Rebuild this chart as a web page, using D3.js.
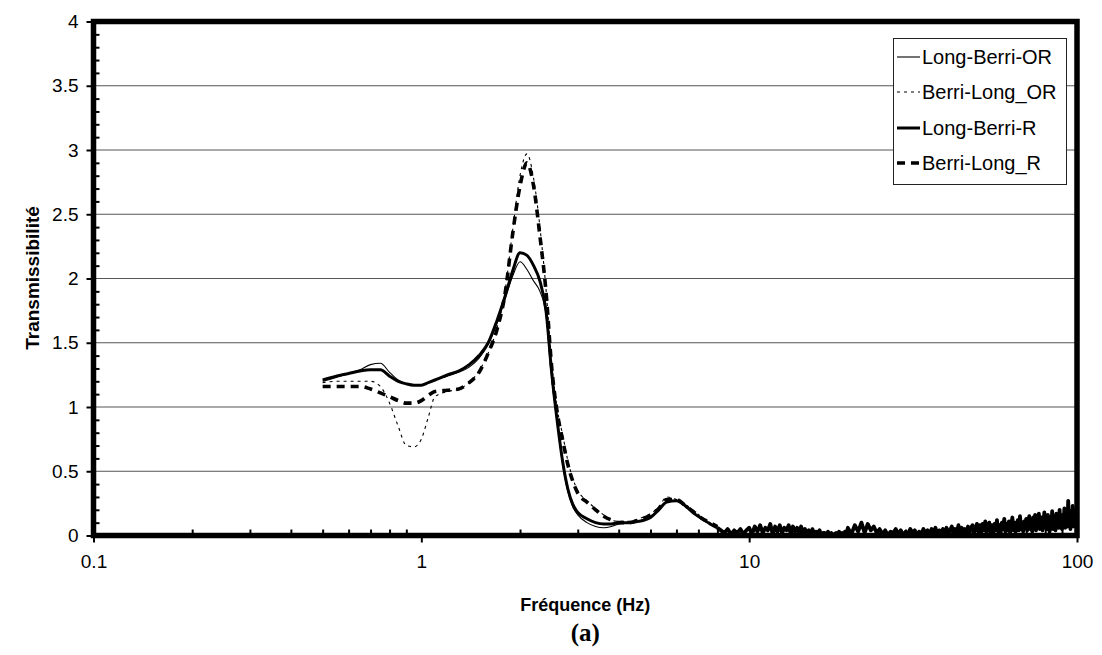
<!DOCTYPE html>
<html><head><meta charset="utf-8">
<script src="https://cdn.jsdelivr.net/npm/d3@7"></script>
<style>
body{margin:0;background:#fff;}
text{font-family:"Liberation Sans",Arial,Helvetica,sans-serif;}
</style>
</head><body>
<svg id="chart" width="1102" height="655"></svg>
<script>
// ---------- DATA ----------
const freq = [0.5,0.55,0.6,0.65,0.7,0.75,0.8,0.85,0.9,0.95,
  1.0,1.05,1.1,
  1.2,1.3,1.4,1.5,1.6,1.7,1.8,1.9,2.0,2.1,2.2,2.3,2.4,2.5,2.6,2.7,2.8,2.9,3.0,
  3.2,3.4,3.6,3.8,4.0,
  4.3,4.6,5.0,5.3,5.6,6.0,
  6.4,6.8,7.2,7.6,8.0];

const longBerriOR = [1.20,1.23,1.26,1.29,1.33,1.34,1.27,1.21,1.18,1.17,
  1.17,1.19,1.21,
  1.24,1.27,1.31,1.38,1.49,1.65,1.84,2.02,2.13,2.07,1.98,1.90,1.72,1.22,0.86,0.55,0.34,0.22,0.16,
  0.10,0.07,0.06,0.07,0.09,
  0.10,0.11,0.15,0.20,0.26,0.27,
  0.22,0.17,0.12,0.09,0.06];

const berriLongOR = [1.19,1.20,1.20,1.20,1.20,1.16,1.03,0.85,0.70,0.69,
  0.75,0.92,1.08,
  1.12,1.14,1.19,1.28,1.42,1.61,1.90,2.38,2.80,2.97,2.78,2.40,1.92,1.33,0.98,0.78,0.58,0.44,0.35,
  0.27,0.21,0.16,0.12,0.11,
  0.11,0.13,0.17,0.22,0.30,0.28,
  0.24,0.19,0.14,0.10,0.07];

const longBerriR = [1.21,1.24,1.26,1.28,1.29,1.29,1.24,1.20,1.18,1.17,
  1.17,1.19,1.21,
  1.25,1.28,1.33,1.40,1.50,1.67,1.86,2.06,2.20,2.18,2.10,1.98,1.75,1.26,0.88,0.57,0.36,0.24,0.18,
  0.13,0.10,0.09,0.09,0.10,
  0.10,0.11,0.14,0.20,0.26,0.27,
  0.23,0.17,0.13,0.09,0.06];

const berriLongR = [1.16,1.16,1.16,1.16,1.14,1.11,1.08,1.05,1.03,1.03,
  1.05,1.09,1.12,
  1.13,1.14,1.19,1.27,1.42,1.60,1.88,2.35,2.72,2.90,2.72,2.33,1.90,1.30,0.95,0.74,0.55,0.42,0.33,
  0.26,0.20,0.15,0.12,0.10,
  0.10,0.12,0.16,0.21,0.28,0.28,
  0.23,0.18,0.13,0.10,0.07];

// high-frequency noisy tail (FFT bins: 0.2 Hz up to 20 Hz, 0.5 Hz above)
const tailFreq = d3.range(8.2, 19.9, 0.2).concat(d3.range(20, 100.01, 0.5));
const tailValues = [
  // 8.2 - 9.8
  0.04,0.02,0.05,0.01,0.04,0.02,0.05,0.01,0.04,
  // 10.0 - 13.8
  0.06,0.01,0.07,0.03,0.08,0.02,0.06,0.04,0.09,0.01,0.07,0.03,0.08,0.02,0.06,0.04,0.08,0.01,0.07,0.03,
  // 14.0 - 16.8
  0.06,0.02,0.07,0.01,0.05,0.02,0.04,0.00,0.05,0.01,0.03,0.02,0.04,0.00,0.02,
  // 17.0 - 19.8
  0.02,0.00,0.03,0.01,0.02,0.00,0.01,0.02,0.00,0.03,0.01,0.02,0.00,0.03,0.01,
  // 20 - 24.5
  0.06,0.01,0.08,0.03,0.10,0.02,0.09,0.04,0.07,0.02,
  // 25 - 34.5
  0.05,0.01,0.04,0.00,0.03,0.02,0.05,0.01,0.04,0.00,0.03,0.01,0.05,0.02,0.04,0.00,0.03,0.01,0.05,0.02,
  // 35 - 49.5
  0.04,0.01,0.05,0.02,0.06,0.00,0.04,0.02,0.05,0.01,0.06,0.02,0.04,0.07,0.01,0.05,0.02,0.08,0.01,0.06,
  0.03,0.05,0.01,0.07,0.02,0.06,0.08,0.02,0.05,0.09,
  // 50 - 69.5
  0.03,0.08,0.02,0.09,0.04,0.11,0.02,0.07,0.10,0.03,0.08,0.01,0.09,0.04,0.12,0.03,0.08,0.02,0.10,0.05,
  0.13,0.03,0.09,0.04,0.11,0.02,0.08,0.14,0.04,0.10,0.03,0.09,0.12,0.04,0.15,0.05,0.10,0.03,0.11,0.06,
  // 70 - 100
  0.13,0.04,0.10,0.15,0.05,0.11,0.03,0.14,0.07,0.16,0.04,0.12,0.06,0.17,0.05,0.11,0.14,0.04,0.10,0.18,
  0.06,0.13,0.05,0.16,0.08,0.03,0.14,0.07,0.19,0.05,0.12,0.15,0.04,0.17,0.08,0.13,0.06,0.20,0.07,0.14,
  0.05,0.16,0.09,0.21,0.06,0.13,0.18,0.07,0.27,0.09,0.15,0.05,0.19,0.10,0.23,0.07,0.16,0.11,0.20,0.08,
  0.15];

const seriesNames = ["Long-Berri-OR","Berri-Long_OR","Long-Berri-R","Berri-Long_R"];
const yTicks = [0,0.5,1,1.5,2,2.5,3,3.5,4];
const yTickLabels = ["0","0.5","1","1.5","2","2.5","3","3.5","4"];
const xTicks = [0.1,1,10,100];
const xTickLabels = ["0.1","1","10","100"];
const xMinorTicks = [0.2,0.3,0.4,0.5,0.6,0.7,0.8,0.9,2,3,4,5,6,7,8,9,20,30,40,50,60,70,80,90];
const yMinorTicks = [0.1,0.2,0.3,0.4,0.6,0.7,0.8,0.9,1.1,1.2,1.3,1.4,1.6,1.7,1.8,1.9,2.1,2.2,2.3,2.4,
  2.6,2.7,2.8,2.9,3.1,3.2,3.3,3.4,3.6,3.7,3.8,3.9];
const xTitle = "Fréquence (Hz)";
const yTitle = "Transmissibilité";
const caption = "(a)";

// ---------- LAYOUT ----------
const L = 93.5, R = 1077, T = 21.5, B = 535.5;
const svg = d3.select("#chart");
const x = d3.scaleLog().domain([0.1, 100]).range([L, R]);
const y = d3.scaleLinear().domain([0, 4]).range([B, T]);

// gridlines
svg.append("g").selectAll("line").data(yTicks.filter(d => d > 0 && d < 4)).join("line")
  .attr("x1", L).attr("x2", R).attr("y1", d => y(d)).attr("y2", d => y(d))
  .attr("stroke", "#555").attr("stroke-width", 1);

// series
const styles = [
  {w: 1.1, dash: null},
  {w: 1.1, dash: "3,4"},
  {w: 3, dash: null},
  {w: 3.6, dash: "8,6"}
];
const seriesData = [
  freq.map((f, i) => [f, longBerriOR[i]]),
  freq.map((f, i) => [f, berriLongOR[i]]),
  freq.map((f, i) => [f, longBerriR[i]]),
  freq.map((f, i) => [f, berriLongR[i]])
];
const tailData = [[freq[freq.length - 1], longBerriR[longBerriR.length - 1]]]
  .concat(tailFreq.slice(0, tailValues.length).map((f, i) => [f, tailValues[i]]));

svg.append("clipPath").attr("id", "clip").append("rect")
  .attr("x", L).attr("y", T).attr("width", R - L).attr("height", B - T);

const lineGen = d3.line().x(d => x(d[0])).y(d => y(d[1])).curve(d3.curveMonotoneX);
const tailGen = d3.line().x(d => x(d[0])).y(d => y(d[1]));
const plotG = svg.append("g").attr("clip-path", "url(#clip)");
plotG.append("path").datum(tailData).attr("d", tailGen)
  .attr("fill", "none").attr("stroke", "#000").attr("stroke-width", 3.8).attr("stroke-linejoin", "round");
[3, 2, 1, 0].forEach(k => {
  plotG.append("path").datum(seriesData[k])
    .attr("d", lineGen)
    .attr("fill", "none").attr("stroke", "#000")
    .attr("stroke-width", styles[k].w)
    .attr("stroke-dasharray", styles[k].dash)
    .attr("stroke-linejoin", "round");
});

// axes
const yAxis = svg.append("g").attr("transform", `translate(${L},0)`)
  .call(d3.axisLeft(y).tickValues(yTicks).tickFormat((d, i) => yTickLabels[i]).tickSize(7).tickPadding(8));
yAxis.select(".domain").remove();
yAxis.selectAll("line").attr("stroke", "#000").attr("stroke-width", 2);
yAxis.selectAll("text").attr("font-size", 19).attr("fill", "#000");

const yMinor = svg.append("g").attr("transform", `translate(${L},0)`)
  .call(d3.axisRight(y).tickValues(yMinorTicks).tickSize(6).tickFormat(""));
yMinor.select(".domain").remove();
yMinor.selectAll("line").attr("stroke", "#000").attr("stroke-width", 2);

const xAxis = svg.append("g").attr("transform", `translate(0,${B})`)
  .call(d3.axisBottom(x).tickValues(xTicks).tickFormat((d, i) => xTickLabels[i]).tickSize(7).tickPadding(12));
xAxis.select(".domain").remove();
xAxis.selectAll("line").attr("stroke", "#000").attr("stroke-width", 2);
xAxis.selectAll("text").attr("font-size", 19).attr("fill", "#000");

const xMinor = svg.append("g").attr("transform", `translate(0,${B})`)
  .call(d3.axisTop(x).tickValues(xMinorTicks).tickSize(6).tickFormat(""));
xMinor.select(".domain").remove();
xMinor.selectAll("line").attr("stroke", "#000").attr("stroke-width", 2);

// frame
svg.append("rect").attr("x", L).attr("y", T).attr("width", R - L).attr("height", B - T)
  .attr("fill", "none").attr("stroke", "#000").attr("stroke-width", 5.5);

// titles
svg.append("text").attr("x", (L + R) / 2).attr("y", 611).attr("text-anchor", "middle")
  .attr("font-size", 18).attr("font-weight", "bold").text(xTitle);
svg.append("text").attr("transform", "translate(39,278) rotate(-90)").attr("text-anchor", "middle")
  .attr("font-size", 19).attr("font-weight", "bold").text(yTitle);
svg.append("text").attr("x", (L + R) / 2).attr("y", 641).attr("text-anchor", "middle")
  .attr("font-size", 25).attr("font-weight", "bold")
  .style("font-family", "'Liberation Serif','Times New Roman',serif").text(caption);

// legend
const lg = svg.append("g");
lg.append("rect").attr("x", 893.5).attr("y", 38.5).attr("width", 173).attr("height", 146)
  .attr("fill", "#fff").attr("stroke", "#222").attr("stroke-width", 1);
const rowY = [57, 92, 128, 163];
seriesNames.forEach((name, k) => {
  lg.append("line").attr("x1", 897).attr("x2", 920).attr("y1", rowY[k]).attr("y2", rowY[k])
    .attr("stroke", "#000").attr("stroke-width", styles[k].w)
    .attr("stroke-dasharray", styles[k].dash);
  lg.append("text").attr("x", 922).attr("y", rowY[k] + 7).attr("font-size", 20).text(name);
});
</script>
</body></html>
